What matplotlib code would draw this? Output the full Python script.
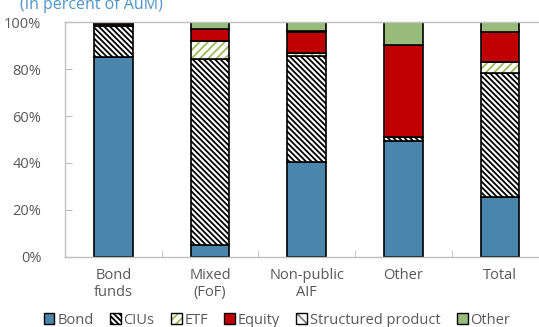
import matplotlib
matplotlib.use("Agg")
import matplotlib.pyplot as plt
import numpy as np
from matplotlib.patches import Patch
from matplotlib.legend_handler import HandlerTuple

plt.rcParams['font.family'] = ['Open Sans', 'DejaVu Sans']
plt.rcParams['hatch.linewidth'] = 1.3

categories = ["Bond\nfunds", "Mixed\n(FoF)", "Non-public\nAIF", "Other", "Total"]
bond = [85.0, 4.9, 40.5, 49.4, 25.6]
cius = [13.5, 79.6, 45.3, 1.8, 52.9]
etf = [0.0, 7.5, 1.0, 0.0, 4.4]
equity = [0.8, 5.3, 8.9, 39.3, 12.8]
structured = [0.2, 0.0, 0.5, 0.0, 0.0]
other = [0.5, 2.7, 3.8, 9.5, 4.3]

series = ["Bond", "CIUs", "ETF", "Equity", "Structured product", "Other"]
values = [bond, cius, etf, equity, structured, other]
# face colour, hatch, hatch colour
styles = [
    ("#4a86ab", None, "#4a86ab"),
    ("white", "\\\\\\\\\\\\", "black"),
    ("white", "////", "#9bbb59"),
    ("#c00000", None, "#c00000"),
    ("white", "\\\\", "#7f7f7f"),
    ("#98bb7a", None, "#98bb7a"),
]

fig = plt.figure(figsize=(5.39, 3.27), dpi=100)
ax = fig.add_axes([65.0 / 539, 70.3 / 327, 483.4 / 539, 234.4 / 327])

x = np.arange(len(categories))
w = 0.4
bottom = np.zeros(len(categories))
for vals, (fc, hatch, hc) in zip(values, styles):
    v = np.array(vals)
    ax.bar(x, v, w, bottom=bottom, color=fc, hatch=hatch, edgecolor=hc, linewidth=0)
    ax.bar(x, v, w, bottom=bottom, fill=False, edgecolor="black", linewidth=1.2)
    bottom += v

ax.set_xlim(-0.5, 4.5)
ax.set_ylim(0, 100)
ax.set_yticks(np.arange(0, 101, 20))
ax.set_yticklabels([f"{t}%" for t in range(0, 101, 20)])
ax.set_xticks(x)
ax.set_xticklabels(categories)
ax.set_xticks(np.arange(-0.5, 4.6, 1), minor=True)
ax.tick_params(axis="x", which="major", length=0, pad=8, labelsize=10.5, labelcolor="#595959")
ax.tick_params(axis="x", which="minor", direction="in", length=5, color="#bfbfbf")
ax.tick_params(axis="y", direction="in", length=5, color="#bfbfbf", pad=17,
               labelsize=10.5, labelcolor="#595959")
for s in ax.spines.values():
    s.set_color("#bfbfbf")
    s.set_linewidth(1.0)

handles = []
for (fc, hatch, hc) in styles:
    handles.append((Patch(facecolor=fc, hatch=hatch, edgecolor=hc, linewidth=0),
                    Patch(fill=False, edgecolor="black", linewidth=1.0)))
fig.legend(handles, series, handler_map={tuple: HandlerTuple(ndivide=1)},
           loc="center", bbox_to_anchor=(277 / 539, 1 - 320 / 327), ncol=6,
           frameon=False, fontsize=10.5, handlelength=0.75, handleheight=0.75,
           handletextpad=0.2, columnspacing=1.1, labelcolor="#595959")

fig.text(20 / 539, 1 - 9 / 327, "(In percent of AuM)", fontsize=11.5,
         color="#4f94c8", va="baseline", ha="left")

fig.savefig("out.png", dpi=100)
